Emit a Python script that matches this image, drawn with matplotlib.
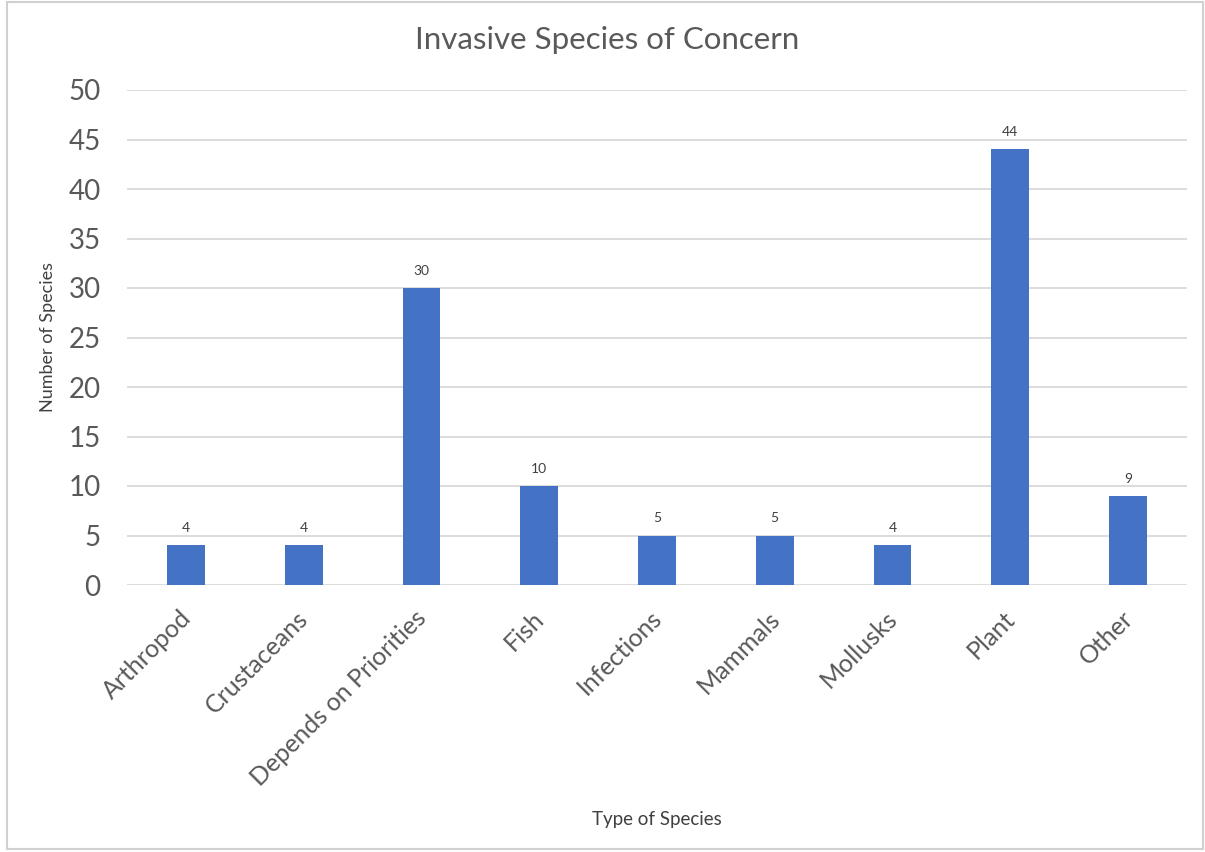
import matplotlib.pyplot as plt
from matplotlib.patches import Rectangle
from matplotlib.transforms import ScaledTranslation

categories = ["Arthropod", "Crustaceans", "Depends on Priorities", "Fish",
              "Infections", "Mammals", "Mollusks", "Plant", "Other"]
counts = [4, 4, 30, 10, 5, 5, 4, 44, 9]
y_ticks = [0, 5, 10, 15, 20, 25, 30, 35, 40, 45, 50]

plt.rcParams['font.family'] = ['Lato', 'DejaVu Sans']

W, H = 1205, 852
fig = plt.figure(figsize=(W / 100, H / 100), dpi=100)
ax = fig.add_axes([127 / W, 1 - 585 / H, (1187 - 127) / W, (585 - 90) / H])

bar_color = "#4472C4"
text_color = "#595959"
grid_color = "#D9D9D9"

x = list(range(len(categories)))
ax.bar(x, counts, width=0.32, color=bar_color, zorder=3)
for xi, v in zip(x, counts):
    ax.annotate(str(v), (xi, v), xytext=(0, 8), textcoords="offset points",
                ha="center", va="bottom", fontsize=10, color="#404040")

ax.set_xlim(-0.5, len(categories) - 0.5)
ax.set_ylim(0, 50)
ax.set_yticks(y_ticks)
ax.set_yticklabels([str(t) for t in y_ticks], fontsize=20, color=text_color)
ax.grid(axis="y", color=grid_color, linewidth=1.3, zorder=0)
ax.tick_params(axis="y", length=0, pad=19)
ax.tick_params(axis="x", length=0, pad=14)
ax.set_xticks(x)
ax.set_xticklabels(categories, rotation=45, ha="right", rotation_mode="anchor",
                   fontsize=18, color=text_color)
shift = ScaledTranslation(-7 / 100, -2 / 100, fig.dpi_scale_trans)
for lbl in ax.get_xticklabels():
    lbl.set_transform(lbl.get_transform() + shift)
for s in ax.spines.values():
    s.set_visible(False)

fig.text(607 / W, 1 - 40 / H, "Invasive Species of Concern", ha="center", va="center",
         fontsize=22.5, color=text_color)
fig.text(48 / W, 1 - 337 / H, "Number of Species", ha="center", va="center",
         rotation=90, fontsize=13, color="#404040")
fig.text(657 / W, 1 - 819 / H, "Type of Species", ha="center", va="center",
         fontsize=13.5, color="#404040")

fig.patches.append(Rectangle((7 / W, 0.003), 1 - 9 / W, 0.995, transform=fig.transFigure,
                             fill=False, edgecolor="#D0D0D0", linewidth=1.5))

fig.savefig("out.png", dpi=100)
